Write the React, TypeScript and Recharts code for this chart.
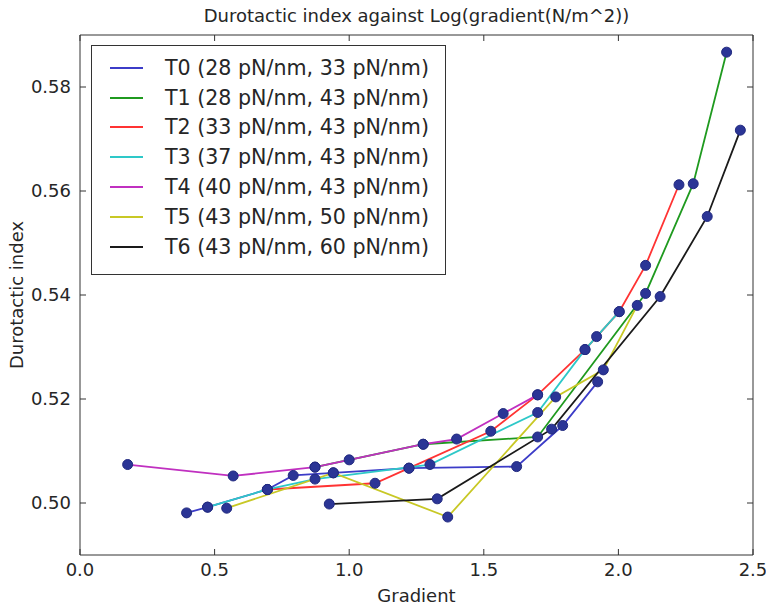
import {
  ComposedChart,
  Line,
  Scatter,
  XAxis,
  YAxis,
  Legend,
  Label,
} from "recharts";

// log(gradient) values and durotactic index per threshold pair
const t0Gradient = [0.396, 0.474, 0.696, 0.792, 0.941, 1.222, 1.622, 1.793, 1.923];
const t0Index = [0.4981, 0.4992, 0.5026, 0.5053, 0.5058, 0.5067, 0.507, 0.5149, 0.5233];

const t1Gradient = [0.873, 1.275, 1.7, 2.101, 2.278, 2.402];
const t1Index = [0.5069, 0.5113, 0.5127, 0.5403, 0.5614, 0.5867];

const t2Gradient = [0.696, 1.096, 1.222, 1.526, 1.7, 1.876, 2.003, 2.101, 2.225];
const t2Index = [0.5026, 0.5038, 0.5067, 0.5138, 0.5208, 0.5295, 0.5368, 0.5457, 0.5612];

const t3Gradient = [0.474, 0.696, 0.873, 1.3, 1.7, 1.876, 1.919, 2.003];
const t3Index = [0.4992, 0.5026, 0.5046, 0.5074, 0.5174, 0.5295, 0.532, 0.5368];

const t4Gradient = [0.177, 0.569, 0.873, 1.0, 1.275, 1.399, 1.572, 1.7];
const t4Index = [0.5074, 0.5052, 0.5069, 0.5083, 0.5113, 0.5123, 0.5172, 0.5208];

const t5Gradient = [0.545, 0.941, 1.366, 1.767, 1.944, 2.07];
const t5Index = [0.499, 0.5058, 0.4973, 0.5204, 0.5256, 0.538];

const t6Gradient = [0.926, 1.327, 1.752, 2.155, 2.33, 2.453];
const t6Index = [0.4998, 0.5008, 0.5142, 0.5397, 0.5551, 0.5717];

const seriesNames = [
  "T0 (28 pN/nm, 33 pN/nm)",
  "T1 (28 pN/nm, 43 pN/nm)",
  "T2 (33 pN/nm, 43 pN/nm)",
  "T3 (37 pN/nm, 43 pN/nm)",
  "T4 (40 pN/nm, 43 pN/nm)",
  "T5 (43 pN/nm, 50 pN/nm)",
  "T6 (43 pN/nm, 60 pN/nm)",
];

const xTicks = [0, 0.5, 1, 1.5, 2, 2.5];
const yTicks = [0.5, 0.52, 0.54, 0.56, 0.58];

const COLORS = ["#3c3cc8", "#1f9a1f", "#ff3333", "#2ec8c8", "#c030c0", "#c8c825", "#1a1a1a"];
const FONT = "DejaVu Sans";
const INK = "#262626";

const zip = (xs: number[], ys: number[]) => xs.map((x, i) => ({ x, y: ys[i] }));

const series = [
  zip(t0Gradient, t0Index),
  zip(t1Gradient, t1Index),
  zip(t2Gradient, t2Index),
  zip(t3Gradient, t3Index),
  zip(t4Gradient, t4Index),
  zip(t5Gradient, t5Index),
  zip(t6Gradient, t6Index),
];

const allPoints = series.flat();

const noTick = () => <g />;

const Marker = (props: any) => (
  <circle cx={props.cx} cy={props.cy} r={5} fill="#2b3596" stroke="#222a80" strokeWidth={1} />
);

const LegendBox = () => (
  <div
    style={{
      width: 353,
      height: 221,
      border: "1px solid #333",
      background: "#fff",
      paddingTop: 7,
      boxSizing: "content-box",
      fontFamily: FONT,
      fontSize: 20.6,
      color: INK,
    }}
  >
    {seriesNames.map((name, i) => (
      <div key={name} style={{ display: "flex", alignItems: "center", height: 29.8 }}>
        <div style={{ marginLeft: 18, width: 33, height: 2, background: COLORS[i] }} />
        <span style={{ marginLeft: 22, whiteSpace: "nowrap" }}>{name}</span>
      </div>
    ))}
  </div>
);

const App = () => {
  return (
    <div style={{ position: "absolute", left: 0, top: 0, background: "#fff" }}>
      <ComposedChart
        width={766}
        height={608}
        margin={{ top: 34, right: 12, bottom: 0, left: 0 }}
      >
        <XAxis
          type="number"
          dataKey="x"
          domain={[0, 2.5]}
          ticks={xTicks}
          tickFormatter={(v: number) => v.toFixed(1)}
          height={53}
          tickSize={-6}
          tickMargin={14}
          allowDataOverflow
          stroke="#333"
          tick={{ fill: INK, fontFamily: FONT, fontSize: 18 }}
        >
          <Label
            content={({ viewBox }: any) => (
              <text
                x={viewBox.x + viewBox.width / 2}
                y={602}
                textAnchor="middle"
                fontFamily={FONT}
                fontSize={18}
                fill={INK}
              >
                Gradient
              </text>
            )}
          />
        </XAxis>
        <XAxis
          xAxisId="top"
          orientation="top"
          type="number"
          dataKey="x"
          domain={[0, 2.5]}
          ticks={xTicks}
          height={1}
          tickSize={-6}
          allowDataOverflow
          stroke="#333"
          tick={noTick}
        >
          <Label
            content={({ viewBox }: any) => (
              <text
                x={viewBox.x + viewBox.width / 2}
                y={22}
                textAnchor="middle"
                fontFamily={FONT}
                fontSize={18}
                fill={INK}
              >
                Durotactic index against Log(gradient(N/m^2))
              </text>
            )}
          />
        </XAxis>
        <YAxis
          type="number"
          dataKey="y"
          domain={[0.49, 0.59]}
          ticks={yTicks}
          tickFormatter={(v: number) => v.toFixed(2)}
          width={80}
          tickSize={-6}
          tickMargin={15}
          allowDataOverflow
          stroke="#333"
          tick={{ fill: INK, fontFamily: FONT, fontSize: 18 }}
        >
          <Label
            content={({ viewBox }: any) => (
              <text
                x={18}
                y={viewBox.y + viewBox.height / 2}
                transform={`rotate(-90 18 ${viewBox.y + viewBox.height / 2})`}
                textAnchor="middle"
                dominantBaseline="middle"
                fontFamily={FONT}
                fontSize={18}
                fill={INK}
              >
                Durotactic index
              </text>
            )}
          />
        </YAxis>
        <YAxis
          yAxisId="right"
          orientation="right"
          type="number"
          dataKey="y"
          domain={[0.49, 0.59]}
          ticks={yTicks}
          width={1}
          tickSize={-6}
          allowDataOverflow
          stroke="#333"
          tick={noTick}
        />
        {series.map((data, i) => (
          <Line
            key={seriesNames[i]}
            data={data}
            dataKey="y"
            name={seriesNames[i]}
            type="linear"
            stroke={COLORS[i]}
            strokeWidth={1.8}
            dot={false}
            activeDot={false}
            isAnimationActive={false}
          />
        ))}
        {/* invisible series so the mirrored frame axes get drawn */}
        <Line
          data={allPoints}
          dataKey="y"
          xAxisId="top"
          yAxisId="right"
          stroke="none"
          dot={false}
          activeDot={false}
          legendType="none"
          isAnimationActive={false}
        />
        <Scatter data={allPoints} dataKey="y" shape={Marker} isAnimationActive={false} />
        <Legend
          layout="vertical"
          align="center"
          verticalAlign="middle"
          wrapperStyle={{ left: 91, top: 45, width: "auto" }}
          content={LegendBox}
        />
      </ComposedChart>
    </div>
  );
};

export default App;
